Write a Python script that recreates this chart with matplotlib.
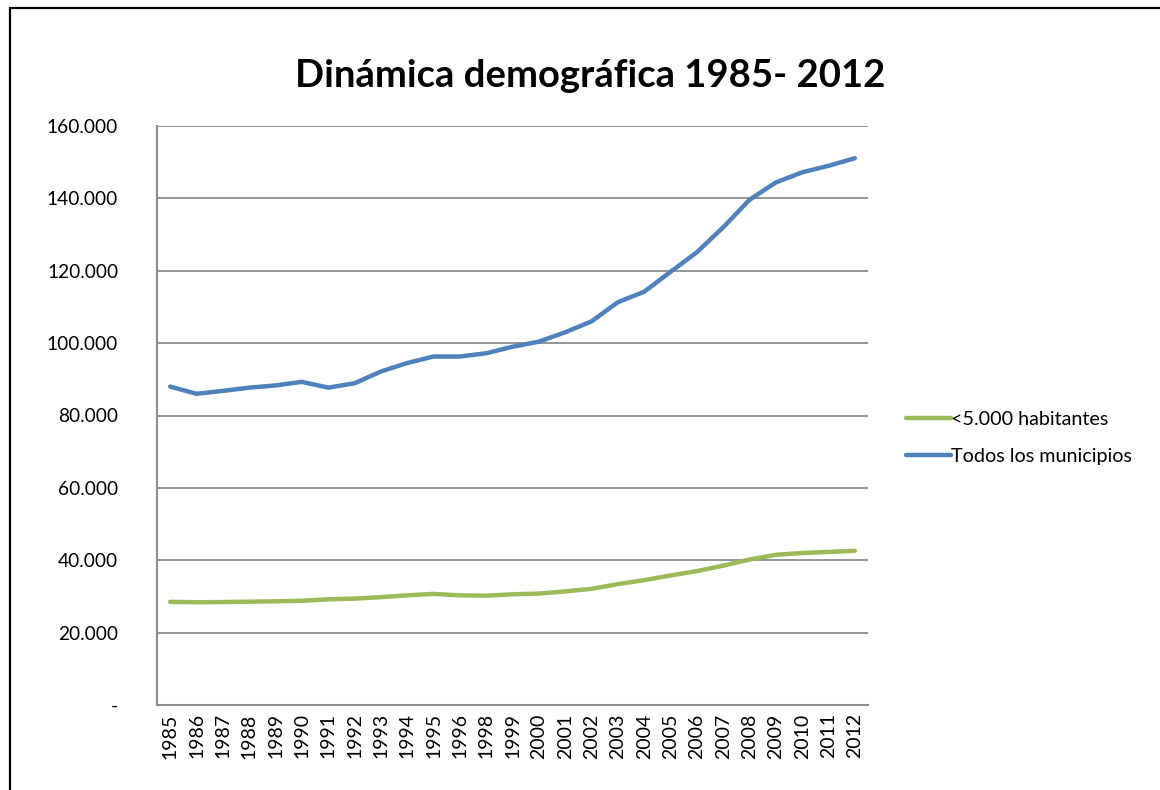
import matplotlib
matplotlib.use("Agg")
import matplotlib.pyplot as plt
from matplotlib.patches import Rectangle

years = ["1985", "1986", "1987", "1988", "1989", "1990", "1991", "1992", "1993",
         "1994", "1995", "1996", "1998", "1999", "2000", "2001", "2002", "2003",
         "2004", "2005", "2006", "2007", "2008", "2009", "2010", "2011", "2012"]

menos_5000 = [28500, 28400, 28450, 28550, 28650, 28800, 29200, 29400, 29800,
              30300, 30700, 30300, 30200, 30600, 30800, 31400, 32100, 33400,
              34500, 35800, 37000, 38500, 40200, 41500, 42000, 42300, 42600]

todos = [88000, 86000, 86800, 87700, 88300, 89300, 87700, 88900, 92150,
         94500, 96300, 96300, 97200, 99000, 100400, 103000, 106000, 111300,
         114200, 119700, 125100, 132000, 139600, 144400, 147200, 149000, 151100]

yticks = [0, 20000, 40000, 60000, 80000, 100000, 120000, 140000, 160000]
ytick_labels = ["-", "20.000", "40.000", "60.000", "80.000", "100.000",
                "120.000", "140.000", "160.000"]

title = "Dinámica demográfica 1985- 2012"
series_names = ["<5.000 habitantes", "Todos los municipios"]

FONT = ["Lato", "DejaVu Sans"]
plt.rcParams["font.family"] = FONT

fig = plt.figure(figsize=(11.6, 7.9), dpi=100)
fig.patches.append(Rectangle((10 / 1160, -0.1), 1.2, 1 - 8 / 790 + 0.1,
                             transform=fig.transFigure, fill=False,
                             edgecolor="black", linewidth=1.6, zorder=0))

ax = fig.add_axes([157 / 1160, 1 - 705 / 790, (868 - 157) / 1160, (705 - 126) / 790])

x = list(range(len(years)))
green = "#9BBB59"
blue = "#4F81BD"
l1, = ax.plot(x, menos_5000, color=green, linewidth=3.2, solid_capstyle="round",
              solid_joinstyle="round", zorder=3)
l2, = ax.plot(x, todos, color=blue, linewidth=3.2, solid_capstyle="round",
              solid_joinstyle="round", zorder=3)

ax.set_xlim(-0.5, len(years) - 0.5)
ax.set_ylim(0, 160000)
ax.set_yticks(yticks)
ax.set_yticklabels(ytick_labels, fontsize=13.8)
ax.set_xticks(x)
ax.set_xticklabels(years, rotation=90, fontsize=14)
ax.tick_params(axis="both", length=0, colors="#000000")
ax.tick_params(axis="y", pad=28)
ax.tick_params(axis="x", pad=6)
for lbl in ax.get_yticklabels():
    lbl.set_horizontalalignment("right")

ax.grid(axis="y", color="#8C8C8C", linewidth=1.3)
ax.set_axisbelow(True)
for s in ["top", "right"]:
    ax.spines[s].set_visible(False)
for s in ["left", "bottom"]:
    ax.spines[s].set_color("#8C8C8C")
    ax.spines[s].set_linewidth(1.5)

fig.text(590 / 1160, 1 - 76 / 790, title, fontsize=27.5, fontweight="bold",
         ha="center", va="center")

leg = fig.legend([l1, l2], series_names, loc="center left",
                 bbox_to_anchor=(888 / 1160, 1 - 438 / 790), frameon=False,
                 fontsize=14.2, handlelength=2.3, handletextpad=0.0,
                 labelspacing=1.05)

fig.savefig("out.png", dpi=100, facecolor="white")
